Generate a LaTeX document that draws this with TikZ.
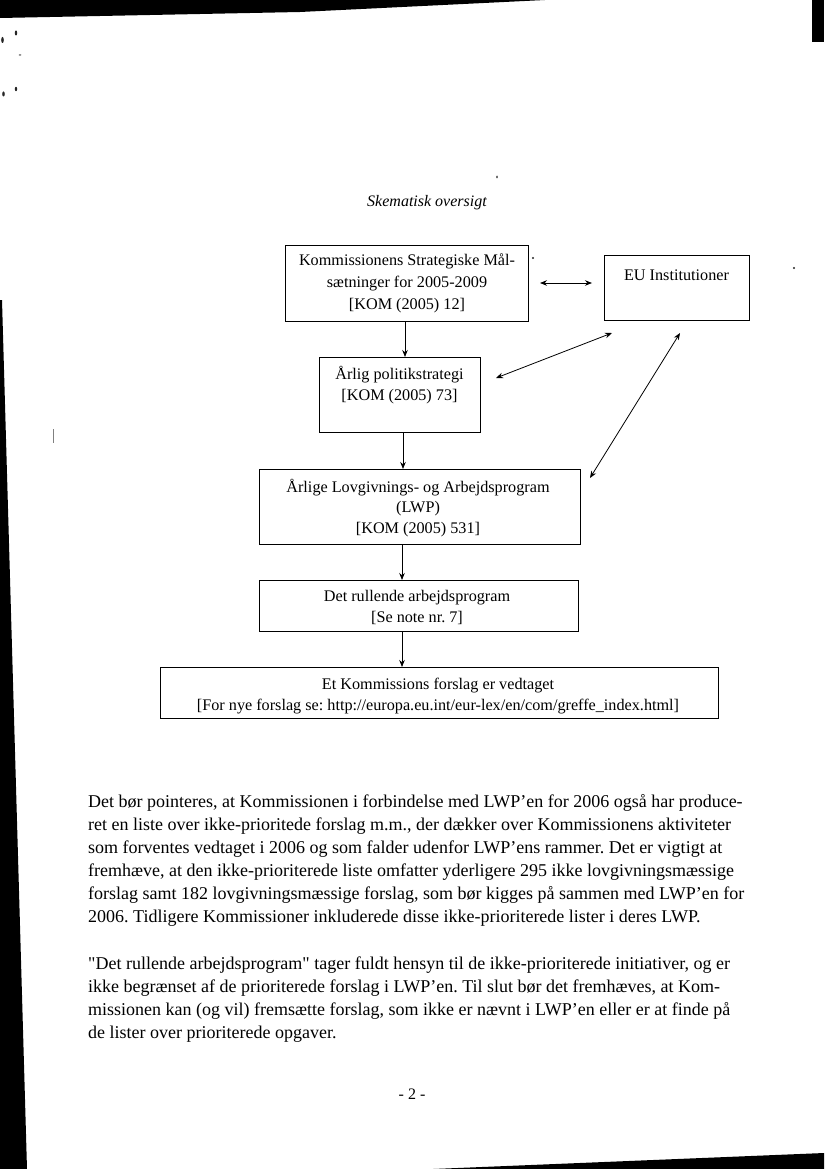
\documentclass[tikz,border=0pt]{standalone}
\usepackage{fontspec}
\setmainfont{Liberation Serif}
\newfontfamily\rawserif{Liberation Serif}[Ligatures=TeXOff]
\usetikzlibrary{arrows.meta}
\frenchspacing
\begin{document}
\begin{tikzpicture}[x=1pt,y=-1pt,
  box/.style={draw, line width=0.9pt, inner sep=0pt, anchor=north west},
  bt/.style={anchor=base, inner sep=0pt, font=\fontsize{16.2}{20}\selectfont},
  body/.style={anchor=base west, inner sep=0pt, font=\fontsize{18}{23}\selectfont},
  tip/.tip={Stealth[length=7pt,width=5.5pt]},
  arr/.style={line width=0.8pt, -tip},
  darr/.style={line width=0.8pt, tip-tip},
  scan/.style={fill=black, draw=none},
  speck/.style={fill=black!85, draw=none}]
\useasboundingbox (0,0) rectangle (824,1169);
\fill[white] (0,0) rectangle (824,1169);

% scan borders
\fill[scan] (0,0) -- (545,0) -- (300,12) -- (0,18) -- cycle;
\fill[scan] (812,0) rectangle (824,42);
\fill[scan] (0,300) -- (2,300) -- (27,1169) -- (0,1169) -- cycle;
\fill[scan] (433,1169) -- (824,1153) -- (824,1169) -- cycle;
\fill[speck] (2.5,40) ellipse (1.3 and 3);
\fill[speck] (16,33) ellipse (1.2 and 2.5);
\fill[speck] (20,55) ellipse (1.5 and 0.6);
\fill[speck] (3.5,94) ellipse (1.3 and 2.5);
\fill[speck] (16,89) ellipse (1.2 and 2.2);
\fill[speck] (497,177) ellipse (0.8 and 1.5);
\fill[speck] (533,258) circle (1.2);
\fill[speck] (794,268) circle (1.2);
\draw[black!50, line width=0.6pt] (53,429) -- (53,443);

% title
\node[anchor=base, inner sep=0pt, font=\fontsize{16}{20}\selectfont\itshape] (title) at (427,207) {Skematisk oversigt};

% boxes
\node[box, minimum width=243pt, minimum height=76pt] (b1) at (285,245) {};
\node[box, minimum width=145pt, minimum height=65pt] (eu) at (604,255) {};
\node[box, minimum width=161pt, minimum height=75pt] (b2) at (319,357) {};
\node[box, minimum width=321pt, minimum height=75pt] (b3) at (259,469) {};
\node[box, minimum width=319pt, minimum height=51pt] (b4) at (259,580) {};
\node[box, minimum width=558pt, minimum height=51pt] (b5) at (160,667) {};

% box texts
\node[bt] (b1a) at (407,265) {Kommissionens Strategiske Mål-};
\node[bt] (b1b) at (407,287) {sætninger for 2005-2009};
\node[bt] (b1c) at (407,309) {[KOM (2005) 12]};
\node[bt] (eua) at (676.5,280) {EU Institutioner};
\node[bt] (b2a) at (399.5,379) {Årlig politikstrategi};
\node[bt] (b2b) at (399.5,400) {[KOM (2005) 73]};
\node[bt] (b3a) at (418,492) {Årlige Lovgivnings- og Arbejdsprogram};
\node[bt] (b3b) at (418,512) {(LWP)};
\node[bt] (b3c) at (418,533) {[KOM (2005) 531]};
\node[bt] (b4a) at (417,601) {Det rullende arbejdsprogram};
\node[bt] (b4b) at (417,622) {[Se note nr. 7]};
\node[bt] (b5a) at (438,689) {Et Kommissions forslag er vedtaget};
\node[bt] (b5b) at (438,710) {[For nye forslag se: http://europa.eu.int/eur-lex/en/com/greffe\_index.html]};

% connectors
\draw[arr] (b1.south -| 405,0) -- (b2.north -| 405,0);
\draw[arr] (b2.south -| 403,0) -- (b3.north -| 403,0);
\draw[arr] (b3.south -| 402,0) -- (b4.north -| 402,0);
\draw[arr] (b4.south -| 402,0) -- (b5.north -| 402,0);
\coordinate (h1) at (540,283);
\coordinate (h2) at (592,283);
\draw[darr] (h1) -- (h2);
\coordinate (d1a) at (496,378);
\coordinate (d1b) at (612,333);
\draw[darr] (d1a) -- (d1b);
\coordinate (d2a) at (590,478);
\coordinate (d2b) at (680,333);
\draw[darr] (d2a) -- (d2b);

% body text
\node[body] (p1) at (88,807) {Det bør pointeres, at Kommissionen i forbindelse med LWP’en for 2006 også har produce-};
\node[body] (p2) at (88,830) {ret en liste over ikke-prioritede forslag m.m., der dækker over Kommissionens aktiviteter};
\node[body] (p3) at (88,853) {som forventes vedtaget i 2006 og som falder udenfor LWP’ens rammer. Det er vigtigt at};
\node[body] (p4) at (88,876) {fremhæve, at den ikke-prioriterede liste omfatter yderligere 295 ikke lovgivningsmæssige};
\node[body] (p5) at (88,899) {forslag samt 182 lovgivningsmæssige forslag, som bør kigges på sammen med LWP’en for};
\node[body] (p6) at (88,922) {2006. Tidligere Kommissioner inkluderede disse ikke-prioriterede lister i deres LWP.};
\node[body] (q1) at (88,969) {{\rawserif"}Det rullende arbejdsprogram{\rawserif"} tager fuldt hensyn til de ikke-prioriterede initiativer, og er};
\node[body] (q2) at (88,992) {ikke begrænset af de prioriterede forslag i LWP’en. Til slut bør det fremhæves, at Kom-};
\node[body] (q3) at (88,1015) {missionen kan (og vil) fremsætte forslag, som ikke er nævnt i LWP’en eller er at finde på};
\node[body] (q4) at (88,1038) {de lister over prioriterede opgaver.};

\node[anchor=base, inner sep=0pt, font=\fontsize{16}{20}\selectfont] (pg) at (412,1099) {- 2 -};
\end{tikzpicture}
\end{document}
